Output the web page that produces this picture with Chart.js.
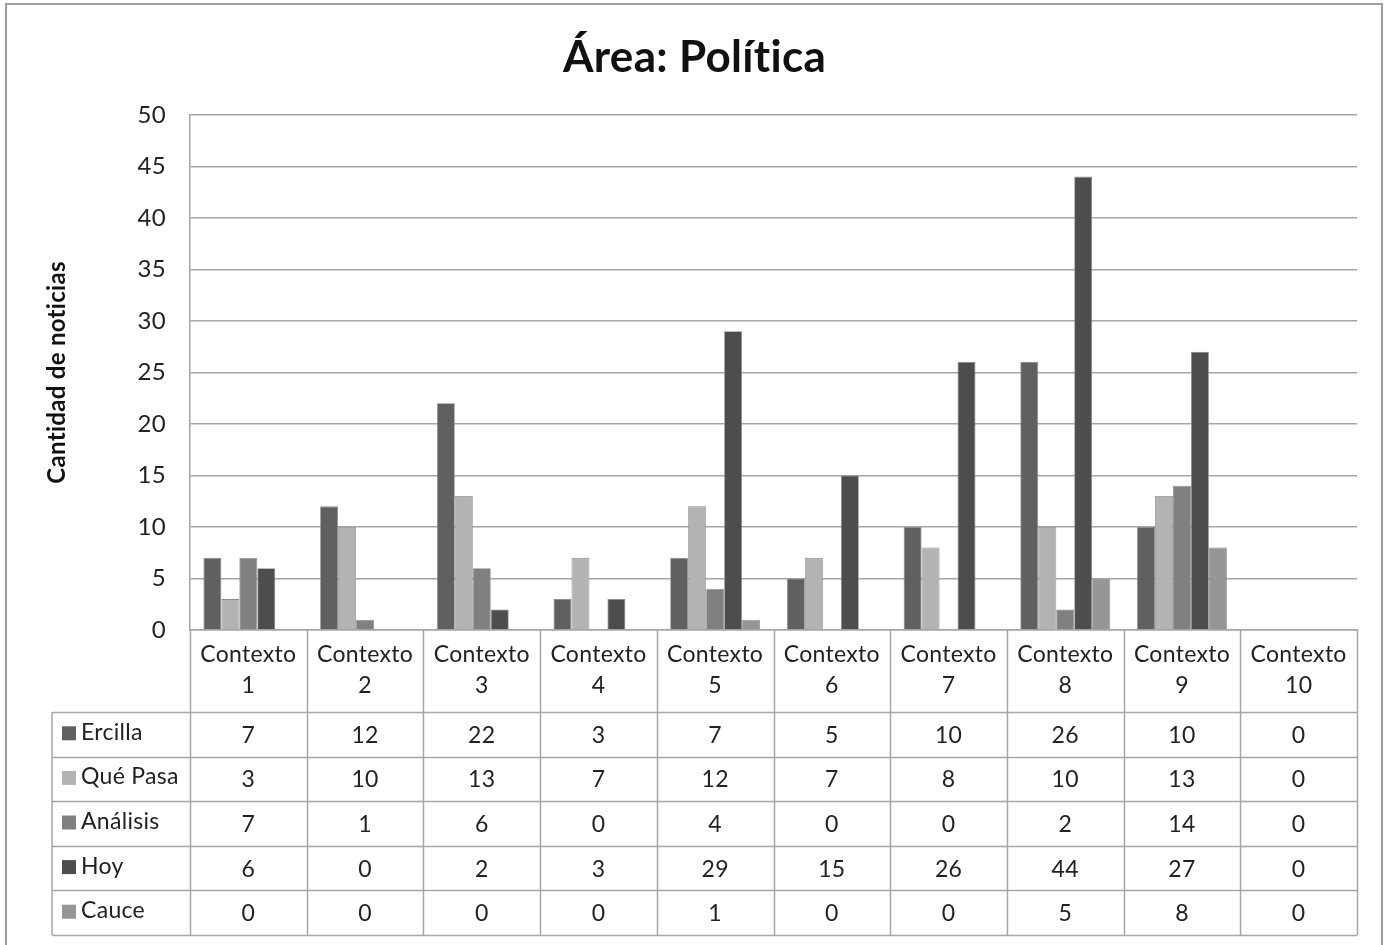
<!DOCTYPE html>
<html>
<head>
<meta charset="utf-8">
<script src="https://cdn.jsdelivr.net/npm/chart.js@4/dist/chart.umd.min.js"></script>
<style>
  html, body { margin: 0; padding: 0; background: #fff; }
  #wrap { position: relative; width: 1389px; height: 945px; }
  #frame { position: absolute; left: 5px; top: 3px; width: 1378px; height: 950px; border: 2px solid #a0a0a0; box-sizing: border-box; pointer-events: none; }
</style>
</head>
<body>
<div id="wrap">
  <canvas id="areaChart" width="1389" height="945"></canvas>
  <div id="frame"></div>
</div>
<script>
const categories = ['Contexto 1', 'Contexto 2', 'Contexto 3', 'Contexto 4', 'Contexto 5',
  'Contexto 6', 'Contexto 7', 'Contexto 8', 'Contexto 9', 'Contexto 10'];
const ercilla  = [7, 12, 22, 3, 7, 5, 10, 26, 10, 0];
const quePasa  = [3, 10, 13, 7, 12, 7, 8, 10, 13, 0];
const analisis = [7, 1, 6, 0, 4, 0, 0, 2, 14, 0];
const hoy      = [6, 0, 2, 3, 29, 15, 26, 44, 27, 0];
const cauce    = [0, 0, 0, 0, 1, 0, 0, 5, 8, 0];
const seriesNames = ['Ercilla', 'Qué Pasa', 'Análisis', 'Hoy', 'Cauce'];
const seriesColors = ['#606060', '#b3b3b3', '#808080', '#4d4d4d', '#969696'];

const FONT = 'Lato, "Open Sans", sans-serif';
const LINE = '#a6a6a6';

// small letter spacing keeps Lato from joining "ti"
const noLigatures = {
  id: 'noLigatures',
  beforeDraw(chart) { chart.ctx.letterSpacing = '0.3px'; }
};

// data table under the plot, laid out on the x scale
const dataTable = {
  id: 'dataTable',
  afterDraw(chart) {
    const ctx = chart.ctx;
    const x = chart.scales.x;
    const area = chart.chartArea;
    const step = x.getPixelForValue(1) - x.getPixelForValue(0);
    const headTop = area.bottom;
    const headH = 82;
    const rowH = 44.6;
    const legendLeft = 52;
    const nRows = chart.data.datasets.length;
    const bottom = headTop + headH + rowH * nRows;

    ctx.save();
    ctx.strokeStyle = LINE;
    ctx.lineWidth = 1.5;
    // vertical lines
    for (let i = 0; i <= categories.length; i++) {
      const px = Math.round(x.getPixelForValue(i) - step / 2) + 0.5;
      ctx.beginPath();
      ctx.moveTo(px, headTop);
      ctx.lineTo(px, bottom);
      ctx.stroke();
    }
    ctx.beginPath();
    ctx.moveTo(legendLeft, headTop + headH);
    ctx.lineTo(legendLeft, bottom);
    ctx.stroke();
    // horizontal lines
    const rightEdge = area.right;
    for (let r = 0; r <= nRows; r++) {
      const py = Math.round(headTop + headH + r * rowH) + 0.5;
      ctx.beginPath();
      ctx.moveTo(legendLeft, py);
      ctx.lineTo(rightEdge, py);
      ctx.stroke();
    }

    ctx.fillStyle = '#222';
    ctx.font = '23px ' + FONT;
    ctx.textAlign = 'center';
    ctx.textBaseline = 'middle';
    categories.forEach((c, i) => {
      const cx = x.getPixelForValue(i);
      const parts = c.split(' ');
      ctx.fillText(parts[0], cx, headTop + 25);
      ctx.fillText(parts[1], cx, headTop + 56);
    });

    chart.data.datasets.forEach((ds, r) => {
      const cy = headTop + headH + r * rowH + rowH / 2;
      ds.data.forEach((v, i) => {
        ctx.fillStyle = '#222';
        ctx.textAlign = 'center';
        ctx.fillText(String(v), x.getPixelForValue(i), cy + 1);
      });
      ctx.fillStyle = ds.backgroundColor;
      ctx.fillRect(legendLeft + 10, cy - 8, 14, 14);
      ctx.fillStyle = '#222';
      ctx.textAlign = 'left';
      ctx.fillText(ds.label, legendLeft + 29, cy - 2);
    });
    ctx.restore();
  }
};

const seriesData = [ercilla, quePasa, analisis, hoy, cauce];

new Chart(document.getElementById('areaChart'), {
  type: 'bar',
  data: {
    labels: categories,
    datasets: seriesData.map((d, i) => ({
      label: seriesNames[i],
      data: d,
      backgroundColor: seriesColors[i],
      borderColor: '#8c8c8c',
      borderWidth: 0.8,
      categoryPercentage: 0.77,
      barPercentage: 1.0
    }))
  },
  options: {
    responsive: false,
    animation: false,
    devicePixelRatio: 1,
    layout: { padding: { left: 5, right: 5, top: 0, bottom: 10 } },
    plugins: {
      legend: { display: false },
      tooltip: { enabled: false },
      title: {
        display: true,
        text: 'Área: Política',
        color: '#111',
        font: { family: FONT, size: 44, weight: 'bold' },
        padding: { top: 31, bottom: 31 }
      }
    },
    scales: {
      x: {
        grid: { display: false, drawTicks: false },
        border: { display: true, color: LINE, width: 1.5 },
        ticks: { display: false },
        afterFit(scale) { scale.height = 305; }
      },
      y: {
        min: 0,
        max: 50,
        ticks: {
          stepSize: 5,
          color: '#222',
          padding: 24,
          font: { family: FONT, size: 24 }
        },
        grid: { color: LINE, lineWidth: 1.5, drawTicks: false },
        border: { display: true, color: LINE, width: 1.5 },
        title: {
          display: true,
          text: 'Cantidad de noticias',
          color: '#111',
          font: { family: FONT, size: 24, weight: 'bold' },
          padding: { top: 38, bottom: 0 }
        },
        afterFit(scale) { scale.width = 185; }
      },
      // empty right margin so the title centres on the whole frame
      yRight: {
        position: 'right',
        min: 0,
        max: 50,
        grid: { display: false, drawTicks: false },
        border: { display: false },
        ticks: { display: false },
        afterFit(scale) { scale.width = 27; }
      }
    }
  },
  plugins: [noLigatures, dataTable]
});
</script>
</body>
</html>
